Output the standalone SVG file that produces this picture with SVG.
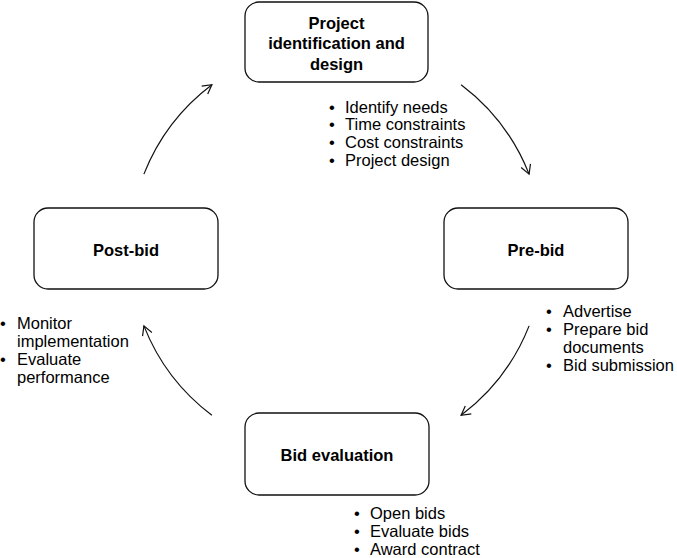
<svg xmlns="http://www.w3.org/2000/svg" width="677" height="558" viewBox="0 0 677 558">
  <style>
    .box { fill: #fff; stroke: #111; stroke-width: 1.3; }
    .title { font-family: "Liberation Sans", Arial, sans-serif; font-size: 16.5px; font-weight: bold; fill: #000; text-anchor: middle; }
    .item { font-family: "Liberation Sans", Arial, sans-serif; font-size: 16.5px; fill: #000; }
    .flow { fill: none; stroke: #111; stroke-width: 1.2; }
  </style>
  <defs>
    <marker id="arrow" markerUnits="userSpaceOnUse" markerWidth="20" markerHeight="20" viewBox="-12 -10 14 20" refX="0" refY="0" orient="auto">
      <path d="M -9 -5 L 0 0 L -9 5" fill="none" stroke="#111" stroke-width="1.2"/>
    </marker>
  </defs>

  <rect width="677" height="558" fill="#fff"/>

  <!-- cycle arrows: arcs of one circle centred on the diagram -->
  <g id="connectors">
    <path class="flow" marker-end="url(#arrow)" d="M 143.9 174.1 A 207 207 0 0 1 211.9 84.7"/>
    <path class="flow" marker-end="url(#arrow)" d="M 461.1 84.7 A 207 207 0 0 1 529.1 174.1"/>
    <path class="flow" marker-end="url(#arrow)" d="M 529.1 325.9 A 207 207 0 0 1 461.1 415.3"/>
    <path class="flow" marker-end="url(#arrow)" d="M 211.9 415.3 A 207 207 0 0 1 143.9 325.9"/>
  </g>

  <!-- stage: project identification and design -->
  <g id="node-design">
    <rect class="box" x="245" y="2" width="183" height="80" rx="14"/>
    <text class="title" x="336.5" y="28.5">Project</text>
    <text class="title" x="336.5" y="49">identification and</text>
    <text class="title" x="336.5" y="69.5">design</text>
    <g class="item">
      <text x="329" y="112.5">•</text><text x="345" y="112.5">Identify needs</text>
      <text x="329" y="130.3">•</text><text x="345" y="130.3">Time constraints</text>
      <text x="329" y="148">•</text><text x="345" y="148">Cost constraints</text>
      <text x="329" y="165.7">•</text><text x="345" y="165.7">Project design</text>
    </g>
  </g>

  <!-- stage: pre-bid -->
  <g id="node-prebid">
    <rect class="box" x="444" y="208" width="184" height="81" rx="14"/>
    <text class="title" x="536" y="255.5">Pre-bid</text>
    <g class="item">
      <text x="546" y="317">•</text><text x="563" y="317">Advertise</text>
      <text x="546" y="335">•</text><text x="563" y="335">Prepare bid</text>
      <text x="563" y="353">documents</text>
      <text x="546" y="371">•</text><text x="563" y="371">Bid submission</text>
    </g>
  </g>

  <!-- stage: bid evaluation -->
  <g id="node-evaluation">
    <rect class="box" x="245" y="413" width="184" height="82" rx="14"/>
    <text class="title" x="337" y="461">Bid evaluation</text>
    <g class="item">
      <text x="354" y="519">•</text><text x="370" y="519">Open bids</text>
      <text x="354" y="537">•</text><text x="370" y="537">Evaluate bids</text>
      <text x="354" y="555">•</text><text x="370" y="555">Award contract</text>
    </g>
  </g>

  <!-- stage: post-bid -->
  <g id="node-postbid">
    <rect class="box" x="34" y="208" width="184" height="81" rx="14"/>
    <text class="title" x="126" y="255.5">Post-bid</text>
    <g class="item">
      <text x="0" y="328.5">•</text><text x="17" y="328.5">Monitor</text>
      <text x="17" y="346.5">implementation</text>
      <text x="0" y="364.5">•</text><text x="17" y="364.5">Evaluate</text>
      <text x="17" y="382.5">performance</text>
    </g>
  </g>
</svg>
